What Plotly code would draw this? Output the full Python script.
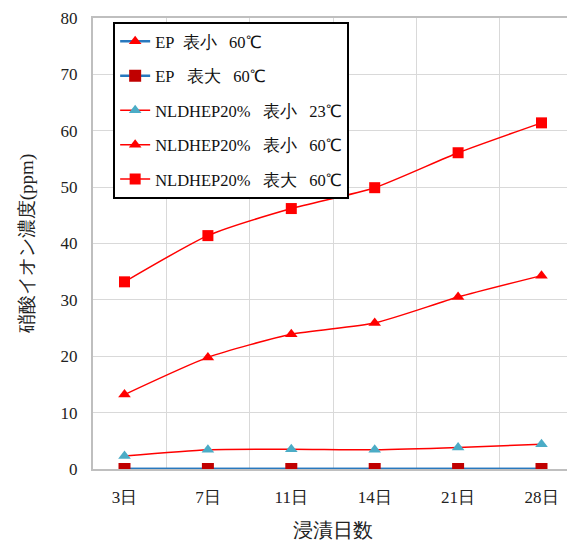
import plotly.graph_objects as go

days = ["3日", "7日", "11日", "14日", "21日", "28日"]
ep_small_60 = [0, 0, 0, 0, 0, 0]
ep_large_60 = [0, 0, 0, 0, 0, 0]
nl_small_23 = [2.3, 3.4, 3.5, 3.4, 3.8, 4.4]
nl_small_60 = [13.2, 19.8, 23.9, 25.9, 30.5, 34.3]
nl_large_60 = [33.2, 41.4, 46.2, 49.9, 56.1, 61.4]

names = [
    "EP\u00a0\u00a0表小\u00a0\u00a0\u00a060℃",
    "EP\u00a0\u00a0\u00a0表大\u00a0\u00a0\u00a060℃",
    "NLDHEP20%\u00a0\u00a0\u00a0表小\u00a0\u00a0\u00a023℃",
    "NLDHEP20%\u00a0\u00a0\u00a0表小\u00a0\u00a0\u00a060℃",
    "NLDHEP20%\u00a0\u00a0\u00a0表大\u00a0\u00a0\u00a060℃",
]

FONT = "Liberation Serif, Times New Roman, serif"
BLUE = "#2878be"

fig = go.Figure()
specs = [
    (ep_small_60, BLUE, 2.5, "triangle-up", "#ff0000", 11),
    (ep_large_60, BLUE, 2.5, "square", "#c00000", 12),
    (nl_small_23, "#ff0000", 1.5, "triangle-up", "#4bacc6", 11),
    (nl_small_60, "#ff0000", 1.5, "triangle-up", "#ff0000", 11),
    (nl_large_60, "#ff0000", 1.5, "square", "#ff0000", 11),
]
for i, (vals, lc, lw, sym, mc, ms) in enumerate(specs):
    fig.add_trace(go.Scatter(
        x=days, y=vals, name=names[i], mode="lines+markers",
        line=dict(color=lc, width=lw, shape="spline", smoothing=0.6),
        marker=dict(symbol=sym, color=mc, size=ms, line=dict(width=0)),
        legendgroup=str(i),
    ))

fig.update_layout(
    width=567, height=533,
    margin=dict(l=85, r=2, t=10, b=72),
    paper_bgcolor="white", plot_bgcolor="white",
    font=dict(family=FONT, size=16, color="#222222"),
    showlegend=True,
    legend=dict(
        x=0.042, y=0.991, xanchor="left", yanchor="top",
        bgcolor="white", bordercolor="black", borderwidth=2,
        font=dict(family=FONT, size=16.5, color="#111111"),
        tracegroupgap=10, itemwidth=30,
    ),
    xaxis=dict(
        type="category", tickson="boundaries", showgrid=True,
        gridcolor="#d9d9d9", gridwidth=1, automargin=False,
        showline=True, linecolor="#bfbfbf", linewidth=2, mirror=True,
        ticks="", tickfont=dict(size=17), ticklabelstandoff=12,
        title=dict(text="浸漬日数", font=dict(size=20), standoff=20),
    ),
    yaxis=dict(
        range=[0, 80], dtick=10, showgrid=True,
        gridcolor="#d9d9d9", gridwidth=1, automargin=False,
        showline=True, linecolor="#bfbfbf", linewidth=2, mirror=True,
        ticks="", tickfont=dict(size=17), zeroline=False, ticklabelstandoff=10,
        title=dict(text="硝酸イオン濃度(ppm)", font=dict(size=19), standoff=22),
    ),
)

fig.write_html("out.html")
